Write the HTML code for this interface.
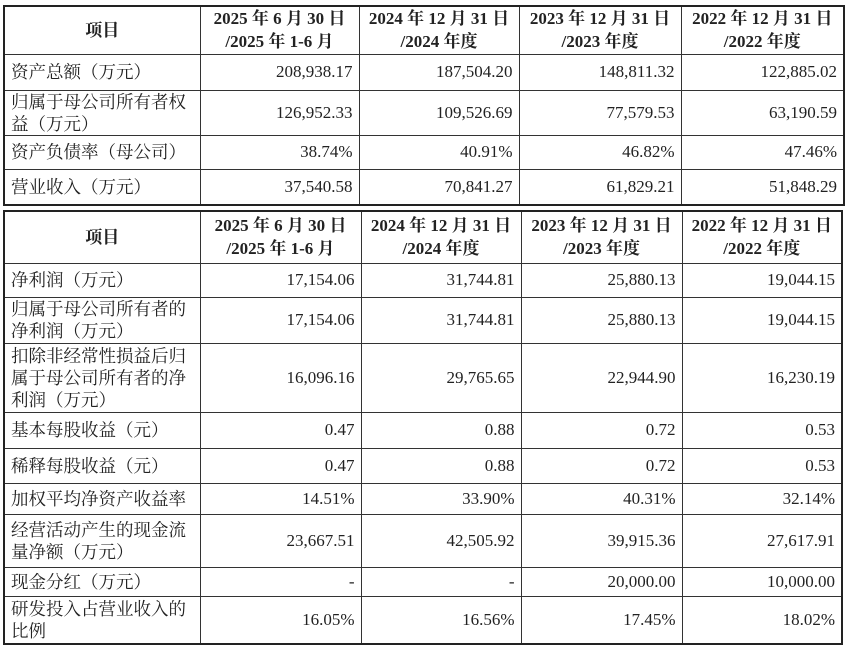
<!DOCTYPE html>
<html><head><meta charset="utf-8"><style>
body{margin:0;width:846px;height:646px;background:#fff;overflow:hidden;position:relative}
table{position:absolute;left:3px;border-collapse:collapse;table-layout:fixed;border:2.5px solid #222;font-family:"Liberation Serif","Noto Serif CJK SC",serif;font-size:17.5px;color:#222}
td{border:1.2px solid #333;padding:0 6px;line-height:22px;overflow:hidden}
td.n{text-align:right;font-size:17px}
tr.h td{text-align:center;font-weight:bold;line-height:23px;font-size:17px}
</style></head><body>
<table style="top:5px;width:840px">
<colgroup><col style="width:196px"><col style="width:159px"><col style="width:160px"><col style="width:162px"><col style="width:163px"></colgroup>
<tr class="h" style="height:48px"><td>项目</td><td>2025 年 6 月 30 日<br>/2025 年 1-6 月</td><td>2024 年 12 月 31 日<br>/2024 年度</td><td>2023 年 12 月 31 日<br>/2023 年度</td><td>2022 年 12 月 31 日<br>/2022 年度</td></tr>
<tr style="height:36px"><td>资产总额（万元）</td><td class="n">208,938.17</td><td class="n">187,504.20</td><td class="n">148,811.32</td><td class="n">122,885.02</td></tr>
<tr style="height:44px"><td>归属于母公司所有者权益（万元）</td><td class="n">126,952.33</td><td class="n">109,526.69</td><td class="n">77,579.53</td><td class="n">63,190.59</td></tr>
<tr style="height:34px"><td>资产负债率（母公司）</td><td class="n">38.74%</td><td class="n">40.91%</td><td class="n">46.82%</td><td class="n">47.46%</td></tr>
<tr style="height:36px"><td>营业收入（万元）</td><td class="n">37,540.58</td><td class="n">70,841.27</td><td class="n">61,829.21</td><td class="n">51,848.29</td></tr>
</table>
<table style="top:210px;width:838px">
<colgroup><col style="width:196px"><col style="width:161px"><col style="width:160px"><col style="width:161px"><col style="width:160px"></colgroup>
<tr class="h" style="height:52px"><td>项目</td><td>2025 年 6 月 30 日<br>/2025 年 1-6 月</td><td>2024 年 12 月 31 日<br>/2024 年度</td><td>2023 年 12 月 31 日<br>/2023 年度</td><td>2022 年 12 月 31 日<br>/2022 年度</td></tr>
<tr style="height:34px"><td>净利润（万元）</td><td class="n">17,154.06</td><td class="n">31,744.81</td><td class="n">25,880.13</td><td class="n">19,044.15</td></tr>
<tr style="height:46px"><td>归属于母公司所有者的净利润（万元）</td><td class="n">17,154.06</td><td class="n">31,744.81</td><td class="n">25,880.13</td><td class="n">19,044.15</td></tr>
<tr style="height:69px"><td>扣除非经常性损益后归属于母公司所有者的净利润（万元）</td><td class="n">16,096.16</td><td class="n">29,765.65</td><td class="n">22,944.90</td><td class="n">16,230.19</td></tr>
<tr style="height:36px"><td>基本每股收益（元）</td><td class="n">0.47</td><td class="n">0.88</td><td class="n">0.72</td><td class="n">0.53</td></tr>
<tr style="height:35px"><td>稀释每股收益（元）</td><td class="n">0.47</td><td class="n">0.88</td><td class="n">0.72</td><td class="n">0.53</td></tr>
<tr style="height:31px"><td>加权平均净资产收益率</td><td class="n">14.51%</td><td class="n">33.90%</td><td class="n">40.31%</td><td class="n">32.14%</td></tr>
<tr style="height:53px"><td>经营活动产生的现金流量净额（万元）</td><td class="n">23,667.51</td><td class="n">42,505.92</td><td class="n">39,915.36</td><td class="n">27,617.91</td></tr>
<tr style="height:29px"><td>现金分红（万元）</td><td class="n">-</td><td class="n">-</td><td class="n">20,000.00</td><td class="n">10,000.00</td></tr>
<tr style="height:48px"><td>研发投入占营业收入的比例</td><td class="n">16.05%</td><td class="n">16.56%</td><td class="n">17.45%</td><td class="n">18.02%</td></tr>
</table>
</body></html>
